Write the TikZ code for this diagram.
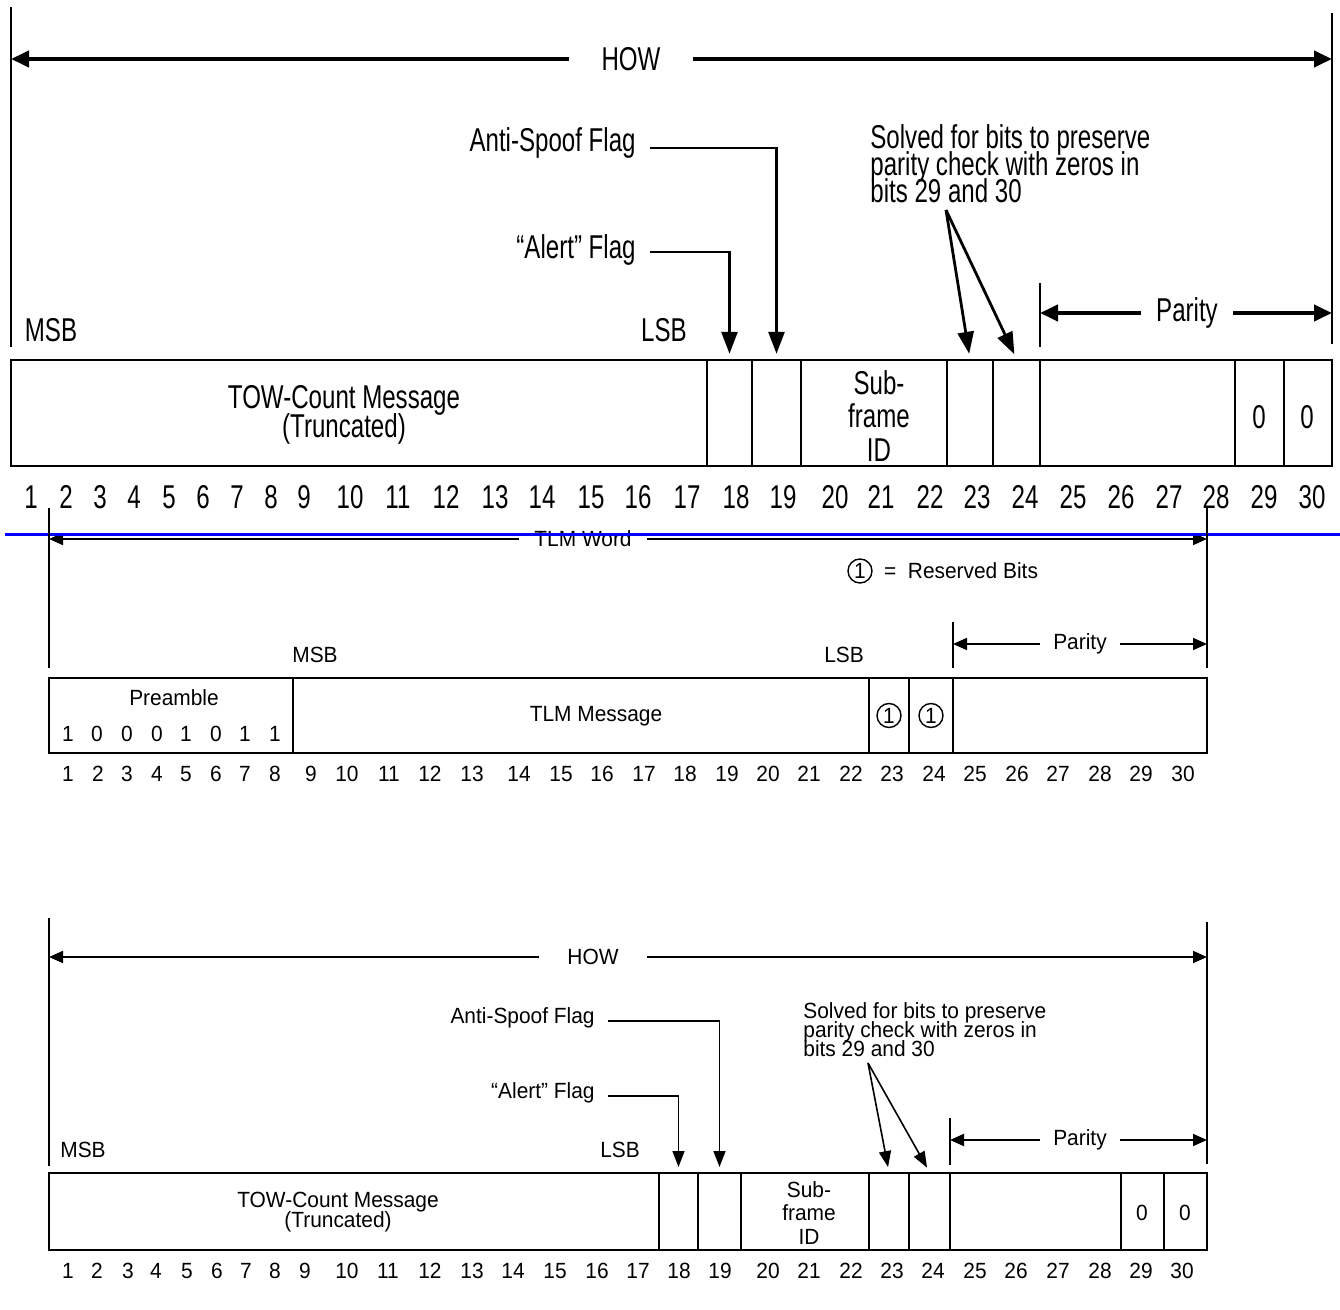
\documentclass[tikz,border=0pt]{standalone}
\usepackage{fontspec}
\setmainfont{Liberation Sans}
\newfontfamily\narrowbig[FakeStretch=0.73]{Liberation Sans}
\newfontfamily\narrowsmall[FakeStretch=0.95]{Liberation Sans}
\newcommand\tightlines{\lineskiplimit=-20pt\relax}
\usetikzlibrary{positioning, arrows.meta, fit}

\begin{document}
\begin{tikzpicture}[
    x={(0.5pt,0)}, y={(0,-0.5pt)},
    big/.style={font=\narrowbig\fontsize{16.5}{13.5}\selectfont\tightlines, inner sep=0pt},
    small/.style={font=\narrowsmall\fontsize{11}{10}\selectfont\tightlines, inner sep=0pt},
    cellbig/.style={draw, line width=1.2pt, inner sep=0pt},
    cellsmall/.style={draw, line width=1pt, inner sep=0pt},
    tickbig/.style={line width=1pt},
    ticksmall/.style={line width=0.8pt},
    dimbig/.style={line width=2pt, -{Triangle[length=9pt, width=8pt]}},
    dimsmall/.style={line width=1pt, -{Triangle[length=7pt, width=6pt]}},
    flagbig/.style={line width=1.4pt, -{Triangle[length=11pt, width=8pt]}, shorten >=2.5pt},
    flagsmall/.style={line width=0.8pt, -{Triangle[length=8pt, width=6pt]}, shorten >=2.5pt},
    rsv/.style={circle, draw, line width=0.7pt, minimum size=12pt, small}
]
    \useasboundingbox (0,0) rectangle (1340,1310);

    % HOW, large
    \coordinate (lt1) at (11,7);
    \coordinate (lt2) at (11,347);
    \coordinate (rt1) at (1332,13);
    \coordinate (rt2) at (1332,344);
    \draw[tickbig] (lt1) -- (lt2);
    \draw[tickbig] (rt1) -- (rt2);
    \node[big, minimum width=61.5pt] (howb) at (631,59) {HOW};
    \draw[dimbig] (howb.west) -- (howb -| lt1);
    \draw[dimbig] (howb.east) -- (howb -| rt1);

    \node[cellbig, fit={(11,360)(707,466)}] (towb) {};
    \node[big, align=center, font=\narrowbig\fontsize{16.5}{14.5}\selectfont\tightlines] (towbtxt) at (344,415) {TOW-Count Message\\(Truncated)};
    \node[cellbig, fit={(707,360)(752,466)}] (b18) {};
    \node[cellbig, fit={(752,360)(801,466)}] (b19) {};
    \node[cellbig, fit={(801,360)(947,466)}] (sfb) {};
    \node[big, align=center, font=\narrowbig\fontsize{16.5}{16.75}\selectfont\tightlines] (sfbtxt) at (879,416) {Sub-\\frame\\ID};
    \node[cellbig, fit={(947,360)(993,466)}] (b23) {};
    \node[cellbig, fit={(993,360)(1040,466)}] (b24) {};
    \node[cellbig, fit={(1040,360)(1235,466)}] (parbox) {};
    \node[cellbig, fit={(1235,360)(1284,466)}] (b29) {};
    \node[cellbig, fit={(1284,360)(1332,466)}] (b30) {};
    \node[big] (z29b) at (1259,417) {0};
    \node[big] (z30b) at (1307,417) {0};

    \node[big] (msbb) at (51,330) {MSB};
    \node[big] (lsbb) at (664,330) {LSB};
    \node[big, anchor=base east] (asb) at (636,152) {Anti-Spoof Flag};
    \node[big, anchor=base east] (alb) at (636,259) {“Alert” Flag};
    \draw[flagbig] ([xshift=7pt, yshift=2pt]asb.base east) -| (b19.north);
    \draw[flagbig] ([xshift=7pt, yshift=3.5pt]alb.base east) -| (b18.north);

    \node[big, anchor=north west, align=left] (svb) at (870,124) {Solved for bits to preserve\\parity check with zeros in\\bits 29 and 30};
    \coordinate (svp) at (946,210);
    \draw[flagbig] (svp) -- (b23.north);
    \draw[flagbig] (svp) -- (b24.north);

    \coordinate (pt1) at (1040,283);
    \coordinate (pt2) at (1040,347);
    \draw[tickbig] (pt1) -- (pt2);
    \node[big, minimum width=46pt] (parb) at (1187,313) {Parity};
    \draw[dimbig] (parb.west) -- (parb -| pt1);
    \draw[dimbig] (parb.east) -- (parb -| rt1);

    \foreach \n/\x in {1/31, 2/66, 3/100, 4/134, 5/169, 6/203, 7/237, 8/271, 9/304, 10/350,
        11/398, 12/446, 13/495, 14/542, 15/591, 16/638, 17/687, 18/736, 19/783, 20/835,
        21/881, 22/930, 23/977, 24/1025, 25/1073, 26/1121, 27/1169, 28/1216, 29/1264, 30/1312}
        \node[big] (nb\n) at (\x,497) {\n};

    % TLM Word
    \coordinate (lm1) at (49,508);
    \coordinate (lm2) at (49,668);
    \coordinate (rm1) at (1207,508);
    \coordinate (rm2) at (1207,668);
    \node[small, minimum width=63.5pt] (tlmw) at (583,539) {TLM Word};
    \draw[dimsmall] (tlmw.west) -- (tlmw -| lm1);
    \draw[dimsmall] (tlmw.east) -- (tlmw -| rm1);
    \draw[blue, line width=1.5pt] (5,535) -- (1340,535);
    \draw[ticksmall] (lm1) -- (lm2);
    \draw[ticksmall] (rm1) -- (rm2);

    \node[rsv] (key) at (860,571) {1};
    \node[small, right=5.5pt of key] (keytxt) {=\ \ Reserved Bits};

    \coordinate (pm1) at (953,622);
    \coordinate (pm2) at (953,668);
    \draw[ticksmall] (pm1) -- (pm2);
    \node[small, minimum width=40pt] (parm) at (1080,644) {Parity};
    \draw[dimsmall] (parm.west) -- (parm -| pm1);
    \draw[dimsmall] (parm.east) -- (parm -| rm1);

    \node[small] (msbm) at (315,655) {MSB};
    \node[small] (lsbm) at (844,655) {LSB};

    \node[cellsmall, fit={(49,678)(293,753)}] (pre) {};
    \node[cellsmall, fit={(293,678)(869,753)}] (msg) {};
    \node[cellsmall, fit={(869,678)(909,753)}] (m23) {};
    \node[cellsmall, fit={(909,678)(953,753)}] (m24) {};
    \node[cellsmall, fit={(953,678)(1207,753)}] (parcell) {};
    \node[small] (pretxt) at (174,698) {Preamble};
    \foreach \b/\x in {1/68, 0/97, 0/127, 0/157, 1/186, 0/216, 1/245, 1/275}
        \node[small] (pb\x) at (\x,734) {\b};
    \node[small] (msgtxt) at (596,716) {TLM Message};
    \node[rsv] (r23) at (m23) {1};
    \node[rsv] (r24) at (m24) {1};

    \foreach \n/\x in {1/68, 2/98, 3/127, 4/157, 5/186, 6/216, 7/245, 8/275, 9/311, 10/347,
        11/389, 12/430, 13/472, 14/519, 15/561, 16/602, 17/644, 18/685, 19/727, 20/768,
        21/809, 22/851, 23/892, 24/934, 25/975, 26/1017, 27/1058, 28/1100, 29/1141, 30/1183}
        \node[small] (nm\n) at (\x,774) {\n};

    % HOW, small
    \coordinate (lw1) at (49,918);
    \coordinate (lw2) at (49,1166);
    \coordinate (rw1) at (1207,922);
    \coordinate (rw2) at (1207,1164);
    \draw[ticksmall] (lw1) -- (lw2);
    \draw[ticksmall] (rw1) -- (rw2);
    \node[small, minimum width=53.5pt] (howw) at (593,957) {HOW};
    \draw[dimsmall] (howw.west) -- (howw -| lw1);
    \draw[dimsmall] (howw.east) -- (howw -| rw1);

    \node[cellsmall, fit={(49,1173)(659,1250)}] (toww) {};
    \node[small, align=center] (towwtxt) at (338,1212) {TOW-Count Message\\(Truncated)};
    \node[cellsmall, fit={(659,1173)(698,1250)}] (w18) {};
    \node[cellsmall, fit={(698,1173)(741,1250)}] (w19) {};
    \node[cellsmall, fit={(741,1173)(869,1250)}] (sfw) {};
    \node[small, align=center, font=\narrowsmall\fontsize{11}{11.75}\selectfont\tightlines] (sfwtxt) at (809,1213) {Sub-\\frame\\ID};
    \node[cellsmall, fit={(869,1173)(909,1250)}] (w23) {};
    \node[cellsmall, fit={(909,1173)(950,1250)}] (w24) {};
    \node[cellsmall, fit={(950,1173)(1121,1250)}] (parw) {};
    \node[cellsmall, fit={(1121,1173)(1164,1250)}] (w29) {};
    \node[cellsmall, fit={(1164,1173)(1207,1250)}] (w30) {};
    \node[small] (z29w) at (1142,1213) {0};
    \node[small] (z30w) at (1185,1213) {0};

    \node[small] (msbw) at (83,1150) {MSB};
    \node[small] (lsbw) at (620,1150) {LSB};
    \node[small, anchor=base east] (asw) at (595,1023) {Anti-Spoof Flag};
    \node[small, anchor=base east] (alw) at (595,1098) {“Alert” Flag};
    \draw[flagsmall] ([xshift=6.5pt, yshift=1pt]asw.base east) -| (w19.north);
    \draw[flagsmall] ([xshift=6.5pt, yshift=1pt]alw.base east) -| (w18.north);

    \node[small, anchor=north west, align=left, font=\narrowsmall\fontsize{11}{9.5}\selectfont\tightlines] (svw) at (803,1002) {Solved for bits to preserve\\parity check with zeros in\\bits 29 and 30};
    \coordinate (svq) at (868,1063);
    \draw[flagsmall] (svq) -- (w23.north);
    \draw[flagsmall] (svq) -- (w24.north);

    \coordinate (pw1) at (950,1118);
    \coordinate (pw2) at (950,1165);
    \draw[ticksmall] (pw1) -- (pw2);
    \node[small, minimum width=40pt] (parwl) at (1080,1140) {Parity};
    \draw[dimsmall] (parwl.west) -- (parwl -| pw1);
    \draw[dimsmall] (parwl.east) -- (parwl -| rw1);

    \foreach \n/\x in {1/68, 2/97, 3/128, 4/156, 5/187, 6/217, 7/246, 8/275, 9/305, 10/347,
        11/388, 12/430, 13/472, 14/513, 15/555, 16/597, 17/638, 18/679, 19/720, 20/768,
        21/809, 22/851, 23/892, 24/933, 25/975, 26/1016, 27/1058, 28/1100, 29/1141, 30/1182}
        \node[small] (nw\n) at (\x,1271) {\n};
\end{tikzpicture}
\end{document}
